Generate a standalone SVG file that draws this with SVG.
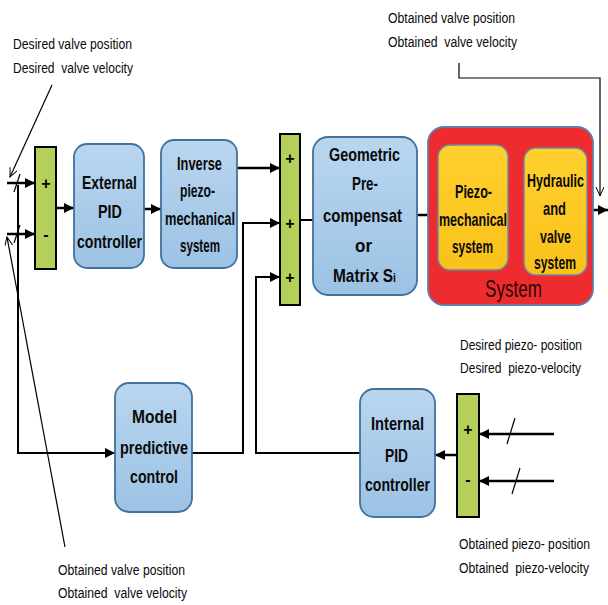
<svg xmlns="http://www.w3.org/2000/svg" width="608" height="605" viewBox="0 0 608 605">
<defs>
<linearGradient id="gb" x1="0" y1="0" x2="0" y2="1"><stop offset="0" stop-color="#B9D6EF"/><stop offset="1" stop-color="#9CC2E4"/></linearGradient>
<linearGradient id="gy" x1="0" y1="0" x2="0" y2="1"><stop offset="0" stop-color="#FFD12E"/><stop offset="1" stop-color="#F9C11A"/></linearGradient>
<marker id="ah" markerUnits="userSpaceOnUse" markerWidth="10" markerHeight="10" refX="10" refY="5" orient="auto"><path d="M0,0 L10,5 L0,10 z" fill="#000"/></marker>
<marker id="oa" markerUnits="userSpaceOnUse" markerWidth="10" markerHeight="10" refX="9" refY="4" orient="auto"><path d="M0,0 L9,4 L0,8" fill="none" stroke="#000" stroke-width="1"/></marker>
</defs>
<style>
.bx{fill:url(#gb);stroke:#41719C;stroke-width:1.8}
.yb{fill:url(#gy);stroke:#6F87A3;stroke-width:1.5}
.sum{fill:#B5CF5B;stroke:#000;stroke-width:2}
.t{font-family:"Liberation Sans",Arial,sans-serif;font-weight:bold;font-size:19px;fill:#0A0A0A}
.s{font-family:"Liberation Sans",Arial,sans-serif;font-size:14px;fill:#0A0A0A;white-space:pre}
.sg{font-family:"Liberation Sans",Arial,sans-serif;font-weight:bold;font-size:16px;fill:#000;text-anchor:middle}
.w{fill:none;stroke:#000;stroke-width:2.5}
.f{fill:none;stroke:#000;stroke-width:2}
.th{fill:none;stroke:#000;stroke-width:1.2}
</style>

<g id="connectors">
<line class="w" x1="7" y1="183" x2="35" y2="183" marker-end="url(#ah)"/>
<line class="w" x1="7" y1="234" x2="35" y2="234" marker-end="url(#ah)"/>
<line class="th" x1="14" y1="192" x2="20" y2="174"/>
<line class="th" x1="14" y1="243" x2="20" y2="225"/>
<line class="w" x1="56" y1="208" x2="74" y2="208" marker-end="url(#ah)"/>
<line class="w" x1="144" y1="209" x2="161" y2="209" marker-end="url(#ah)"/>
<line class="w" x1="237" y1="168" x2="280" y2="168" marker-end="url(#ah)"/>
<polyline class="f" points="192,453 243,453 243,223 280,223" marker-end="url(#ah)"/>
<polyline class="f" points="360,453 256,453 256,277 280,277" marker-end="url(#ah)"/>
<line class="f" x1="300" y1="220" x2="313" y2="220"/>
<line class="w" x1="417" y1="215" x2="438" y2="215" marker-end="url(#ah)"/>
<line class="w" x1="508" y1="210" x2="524" y2="210" marker-end="url(#ah)"/>
<line class="w" x1="593" y1="210" x2="608" y2="210" marker-end="url(#ah)"/>
<polyline class="th" points="459,63 459,78 600,78 600,196" marker-end="url(#oa)"/>
<polyline class="f" points="18,185 18,453 115,453" marker-end="url(#ah)"/>
<line class="th" x1="52" y1="85" x2="10" y2="177" marker-end="url(#oa)"/>
<line class="th" x1="65" y1="547" x2="7" y2="237" marker-end="url(#oa)"/>
<line class="w" x1="554" y1="434" x2="479" y2="434" marker-end="url(#ah)"/>
<line class="w" x1="554" y1="481" x2="479" y2="481" marker-end="url(#ah)"/>
<line class="th" x1="507" y1="444" x2="515" y2="418"/>
<line class="th" x1="512" y1="494" x2="520" y2="468"/>
<line class="w" x1="457" y1="455" x2="435" y2="455" marker-end="url(#ah)"/>
</g>

<g id="sum1">
<rect class="sum" x="35" y="147" width="21" height="122"/>
<text class="sg" x="46" y="189">+</text>
<text class="sg" x="46" y="240">-</text>
</g>

<g id="external-pid">
<rect class="bx" x="74" y="144" width="70" height="124" rx="13"/>
<text class="t" x="82" y="189" textLength="55" lengthAdjust="spacingAndGlyphs">External</text>
<text class="t" x="98" y="218" textLength="24" lengthAdjust="spacingAndGlyphs">PID</text>
<text class="t" x="77" y="248" textLength="65" lengthAdjust="spacingAndGlyphs">controller</text>
</g>

<g id="inverse">
<rect class="bx" x="161" y="140" width="76" height="128" rx="13"/>
<text class="t" x="177" y="170" textLength="45" lengthAdjust="spacingAndGlyphs">Inverse</text>
<text class="t" x="180" y="197" textLength="35" lengthAdjust="spacingAndGlyphs">piezo-</text>
<text class="t" x="165" y="225" textLength="70" lengthAdjust="spacingAndGlyphs">mechanical</text>
<text class="t" x="180" y="252" textLength="40" lengthAdjust="spacingAndGlyphs">system</text>
</g>

<g id="sum2">
<rect class="sum" x="280" y="134" width="20" height="171"/>
<text class="sg" x="290" y="164">+</text>
<text class="sg" x="290" y="229">+</text>
<text class="sg" x="290" y="283">+</text>
</g>

<g id="geometric">
<rect class="bx" x="313" y="137" width="104" height="158" rx="15"/>
<text class="t" x="329" y="161" textLength="71" lengthAdjust="spacingAndGlyphs">Geometric</text>
<text class="t" x="352" y="190" textLength="26" lengthAdjust="spacingAndGlyphs">Pre-</text>
<text class="t" x="323" y="222" textLength="79" lengthAdjust="spacingAndGlyphs">compensat</text>
<text class="t" x="355" y="252" textLength="17" lengthAdjust="spacingAndGlyphs">or</text>
<text class="t" x="333" y="282" textLength="63" lengthAdjust="spacingAndGlyphs">Matrix S<tspan font-size="13">i</tspan></text>
</g>

<g id="system">
<rect x="428" y="127" width="165" height="178" rx="16" fill="#EE2B2E" stroke="#5B7FA8" stroke-width="1.8"/>
<text x="485" y="297" textLength="57" lengthAdjust="spacingAndGlyphs" style="font-family:'Liberation Sans',Arial,sans-serif;font-size:24px;fill:#2A0505">System</text>
</g>

<g id="piezo-mechanical">
<rect class="yb" x="438" y="145" width="70" height="125" rx="12"/>
<text class="t" x="455" y="198" textLength="37" lengthAdjust="spacingAndGlyphs">Piezo-</text>
<text class="t" x="439" y="226" textLength="68" lengthAdjust="spacingAndGlyphs">mechanical</text>
<text class="t" x="452" y="253" textLength="41" lengthAdjust="spacingAndGlyphs">system</text>
</g>

<g id="hydraulic">
<rect class="yb" x="524" y="148" width="63" height="127" rx="12"/>
<text class="t" x="527" y="187" textLength="57" lengthAdjust="spacingAndGlyphs">Hydraulic</text>
<text class="t" x="543" y="215" textLength="23" lengthAdjust="spacingAndGlyphs">and</text>
<text class="t" x="540" y="243" textLength="31" lengthAdjust="spacingAndGlyphs">valve</text>
<text class="t" x="534" y="269" textLength="42" lengthAdjust="spacingAndGlyphs">system</text>
</g>

<g id="mpc">
<rect class="bx" x="115" y="383" width="77" height="129" rx="14"/>
<text class="t" x="132" y="423" textLength="45" lengthAdjust="spacingAndGlyphs">Model</text>
<text class="t" x="120" y="454" textLength="68" lengthAdjust="spacingAndGlyphs">predictive</text>
<text class="t" x="130" y="483" textLength="48" lengthAdjust="spacingAndGlyphs">control</text>
</g>

<g id="internal-pid">
<rect class="bx" x="360" y="389" width="75" height="128" rx="14"/>
<text class="t" x="371" y="430" textLength="53" lengthAdjust="spacingAndGlyphs">Internal</text>
<text class="t" x="385" y="462" textLength="23" lengthAdjust="spacingAndGlyphs">PID</text>
<text class="t" x="365" y="491" textLength="65" lengthAdjust="spacingAndGlyphs">controller</text>
</g>

<g id="sum3">
<rect class="sum" x="457" y="394" width="22" height="123"/>
<text class="sg" x="468" y="435">+</text>
<text class="sg" x="468" y="485">-</text>
</g>

<g id="labels">
<text class="s" x="13" y="49" textLength="119" lengthAdjust="spacingAndGlyphs">Desired valve position</text>
<text class="s" x="13" y="73" textLength="120" lengthAdjust="spacingAndGlyphs">Desired  valve velocity</text>
<text class="s" x="388" y="23" textLength="127" lengthAdjust="spacingAndGlyphs">Obtained valve position</text>
<text class="s" x="388" y="47" textLength="129" lengthAdjust="spacingAndGlyphs">Obtained  valve velocity</text>
<text class="s" x="58" y="575" textLength="127" lengthAdjust="spacingAndGlyphs">Obtained valve position</text>
<text class="s" x="58" y="598" textLength="129" lengthAdjust="spacingAndGlyphs">Obtained  valve velocity</text>
<text class="s" x="460" y="350" textLength="122" lengthAdjust="spacingAndGlyphs">Desired piezo- position</text>
<text class="s" x="460" y="373" textLength="121" lengthAdjust="spacingAndGlyphs">Desired  piezo-velocity</text>
<text class="s" x="459" y="549" textLength="131" lengthAdjust="spacingAndGlyphs">Obtained piezo- position</text>
<text class="s" x="459" y="573" textLength="130" lengthAdjust="spacingAndGlyphs">Obtained  piezo-velocity</text>
</g>
</svg>
